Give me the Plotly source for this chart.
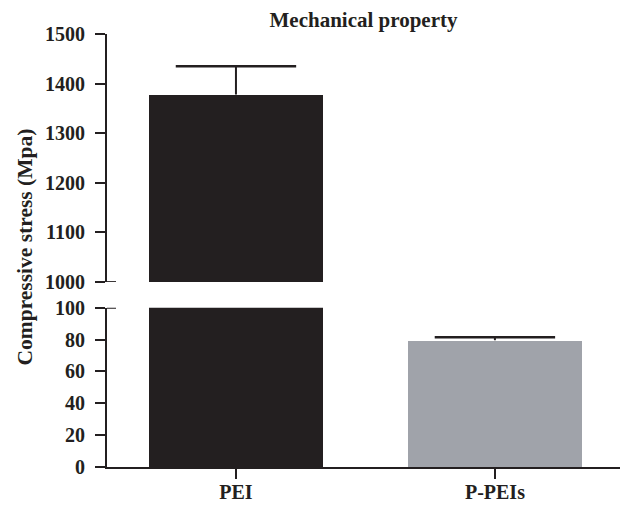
import plotly.graph_objects as go

# Compressive stress per material, with upper error (SD)
groups = ["PEI", "P-PEIs"]
stress = [1378, 79.5]
stress_err = [57, 1.9]
bar_colors = ["#231f20", "#a0a3aa"]

# Tick values for the two segments of the broken y axis
low_ticks = [0, 20, 40, 60, 80, 100]
high_ticks = [1000, 1100, 1200, 1300, 1400, 1500]

INK = "#231f20"
FONT = "Liberation Serif"

fig = go.Figure()

tops = [s + e for s, e in zip(stress, stress_err)]
stem_x, stem_y = [], []
for g, s, t in zip(groups, stress, tops):
    stem_x += [g, g, None]
    stem_y += [s, t, None]

for yax in ("y", "y2"):
    fig.add_trace(go.Bar(x=groups, y=stress, marker_color=bar_colors,
                         marker_line_width=0, width=0.672,
                         yaxis=yax, xaxis="x", showlegend=False))
    # upper error bar: stem plus cap
    fig.add_trace(go.Scatter(x=stem_x, y=stem_y, mode="lines",
                             line=dict(color=INK, width=2),
                             yaxis=yax, xaxis="x", showlegend=False,
                             hoverinfo="skip"))
    fig.add_trace(go.Scatter(x=groups, y=tops, mode="markers",
                             marker=dict(symbol="line-ew", size=86,
                                         line=dict(color=INK, width=2.5)),
                             yaxis=yax, xaxis="x", showlegend=False))

tickfont = dict(family=FONT, size=20, color=INK, weight="bold")
axis_common = dict(showline=True, linecolor=INK, linewidth=2,
                   ticks="outside", ticklen=10, tickwidth=2, tickcolor=INK,
                   tickfont=tickfont, showgrid=False, zeroline=False,
                   automargin=False)

fig.update_layout(
    width=626, height=505,
    margin=dict(l=107, r=6, t=33.5, b=38.3),
    plot_bgcolor="white", paper_bgcolor="white",
    bargap=0,
    xaxis=dict(range=[-0.498, 1.483], anchor="y", ticklabelstandoff=-4,
               **axis_common),
    yaxis=dict(domain=[0, 0.368], range=[0, 100], tickvals=low_ticks,
               anchor="x", ticklabelstandoff=6, **axis_common),
    yaxis2=dict(domain=[0.427, 1], range=[1000, 1500], tickvals=high_ticks,
                anchor="x", ticklabelstandoff=6, **axis_common),
    title=dict(text="Mechanical property", xref="paper", x=0.5,
               xanchor="center", yref="container", y=1 - 20 / 505,
               yanchor="middle",
               font=dict(family=FONT, size=21, color=INK, weight="bold")),
)

# y axis label spanning both segments
fig.add_annotation(text="Compressive stress (Mpa)", textangle=-90,
                   xref="paper", x=0, xanchor="center",
                   xshift=-83, yref="paper", y=0.5, yshift=3,
                   showarrow=False,
                   font=dict(family=FONT, size=21.5, color=INK, weight="bold"))

# break marks: ticks extend inward at both ends of the gap
for yref, yval in (("y2", 1000), ("y", 100)):
    fig.add_shape(type="line", xref="paper", xsizemode="pixel", xanchor=0,
                  x0=0, x1=9, yref=yref, y0=yval, y1=yval,
                  line=dict(color=INK, width=2))

fig.write_html("out.html")
